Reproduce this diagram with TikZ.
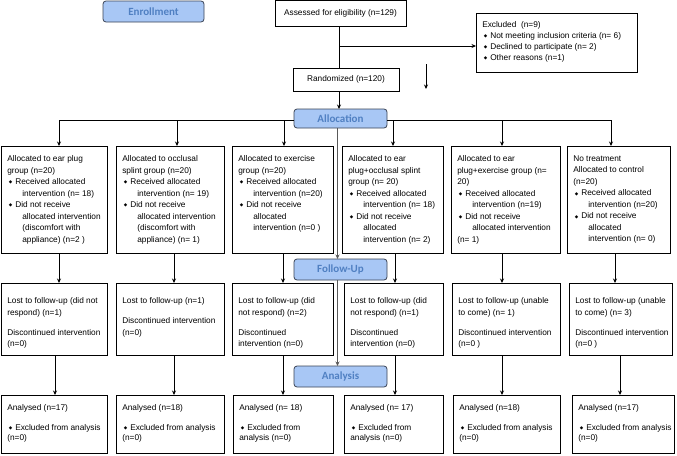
\documentclass[tikz,border=0pt]{standalone}
\usepackage{fontspec}
\setmainfont{Liberation Sans}
\newfontfamily\labfont{Carlito}
\newfontfamily\dejavu{DejaVu Sans}
\usetikzlibrary{arrows.meta}
\definecolor{labfill}{HTML}{A8C7F5}
\definecolor{labtext}{HTML}{5080C2}
\definecolor{labdraw}{HTML}{3A4355}
\newcommand{\bul}{\raisebox{0.6pt}{\dejavu\fontsize{4.5}{4.5}\selectfont ◆}}
\newcommand{\bi}[1]{\hspace*{1.5pt}\bul\hspace{3pt}#1}
\newcommand{\ci}[1]{\hspace*{15pt}#1}
\newcommand{\tbox}[7]{\node[tbox] (#1) at (#2,#3) {\parbox[t][#5pt][t]{#4pt}{\fontsize{8.3}{11.5}\selectfont\raggedright\leftskip=6.3pt\vspace*{#6pt}#7}};}
\tikzset{
  tbox/.style={draw=black, line width=0.8pt, anchor=north west, inner sep=0pt, outer sep=0pt},
  plain/.style={draw=black, line width=0.8pt, inner sep=0pt, outer sep=0pt, font=\fontsize{8.3}{10}\selectfont},
  lab/.style={draw=labdraw, fill=labfill, line width=0.8pt, rounded corners=3pt, text=labtext, font=\labfont\bfseries\fontsize{11}{12}\selectfont, inner sep=0pt, outer sep=0pt},
  arr/.style={draw=black, line width=0.8pt, -{Stealth[length=4.5pt,width=4pt]}},
  ln/.style={draw=black, line width=0.8pt},
  mid/.style={draw=black!65, line width=1.2pt, -{Stealth[length=4.5pt,width=4pt]}}
}
\begin{document}
\begin{tikzpicture}[x=1pt,y=-1pt]
\useasboundingbox (0,0) rectangle (677,455);
% enrollment
\node[lab, minimum width=101pt, minimum height=21pt] (enr) at (153.5,11.5) {Enrollment};
\node[plain, minimum width=131pt, minimum height=25.5pt, anchor=north west] (ass) at (275,0.5) {Assessed for eligibility (n=129)};
\node[plain, minimum width=106pt, minimum height=23pt, anchor=north west] (rand) at (293,68) {Randomized (n=120)};
\tbox{excl}{476}{13}{161}{59}{8}{\fontsize{8.3}{11}\selectfont Excluded\ \ (n=9)\\
\bi{Not meeting inclusion criteria (n= 6)}\\
\bi{Declined to participate (n= 2)}\\
\bi{Other reasons (n=1)}}
\coordinate (cx) at (339,0);
\coordinate (j1) at (339,46);
\draw[ln] (ass.south -| cx) -- (rand.north -| cx);
\draw[arr] (j1) -- (excl.west |- j1);
\coordinate (s1) at (426,64);
\coordinate (s2) at (426,89);
\draw[arr] (s1) -- (s2);
% allocation
\node[lab, minimum width=93pt, minimum height=19pt] (alloc) at (340.5,118.5) {Allocation};
\draw[arr] (rand.south -| cx) -- (alloc.north -| cx);
% group boxes
\tbox{B1}{1}{146}{106}{107}{9.5}{Allocated to ear plug\\ group (n=20)\\
\bi{Received allocated}\\ \ci{intervention (n= 18)}\\
\bi{Did not receive}\\ \ci{allocated intervention}\\ \ci{(discomfort with}\\ \ci{appliance) (n=2 )}}
\tbox{B2}{116}{146}{108}{107}{9.5}{Allocated to occlusal\\ splint group (n=20)\\
\bi{Received allocated}\\ \ci{intervention (n= 19)}\\
\bi{Did not receive}\\ \ci{allocated intervention}\\ \ci{(discomfort with}\\ \ci{appliance) (n= 1)}}
\tbox{B3}{232}{146}{101}{107}{9.5}{Allocated to exercise\\ group (n=20)\\
\bi{Received allocated}\\ \ci{intervention (n=20)}\\
\bi{Did not receive}\\ \ci{allocated}\\ \ci{intervention (n=0 )}}
\tbox{B4}{342}{146}{101}{107}{9.5}{Allocated to ear\\ plug+occlusal splint\\ group (n= 20)\\
\bi{Received allocated}\\ \ci{intervention (n= 18)}\\
\bi{Did not receive}\\ \ci{allocated}\\ \ci{intervention (n= 2)}}
\tbox{B5}{451}{146}{109}{107}{9.5}{Allocated to ear\\ plug+exercise group (n=\\ 20)\\
\bi{Received allocated}\\ \ci{intervention (n=19)}\\
\bi{Did not receive}\\ \ci{allocated intervention}\\ (n= 1)}
\tbox{B6}{567}{146}{103}{107}{9.5}{No treatment\\ Allocated to control\\ (n=20)\\
\bi{Received allocated}\\ \ci{intervention (n=20)}\\
\bi{Did not receive}\\ \ci{allocated}\\ \ci{intervention (n= 0)}}
\coordinate (hy) at (0,120);
\coordinate (a1) at (59,0);
\coordinate (a2) at (177,0);
\coordinate (a3) at (284,0);
\coordinate (a4) at (393,0);
\coordinate (a5) at (502,0);
\coordinate (a6) at (611,0);
\draw[arr] (alloc.west |- hy) -| (B1.north -| a1);
\draw[arr] (a2 |- hy) -- (B2.north -| a2);
\draw[arr] (a3 |- hy) -- (B3.north -| a3);
\draw[arr] (alloc.east |- hy) -| (B6.north -| a6);
\draw[arr] (a4 |- hy) -- (B4.north -| a4);
\draw[arr] (a5 |- hy) -- (B5.north -| a5);
% follow-up
\node[lab, minimum width=93pt, minimum height=21pt] (fu) at (340.5,269.5) {Follow-Up};
\tbox{F1}{1}{283}{106}{72}{14.5}{Lost to follow-up (did not\\ respond) (n=1)\\[8.5pt] Discontinued intervention\\ (n=0)}
\tbox{F2}{116}{283}{108}{72}{14.5}{Lost to follow-up (n=1)\\[8.5pt] Discontinued intervention\\ (n=0)}
\tbox{F3}{232}{283}{101}{72}{14.5}{Lost to follow-up (did\\ not respond) (n=2)\\[8.5pt] Discontinued\\ intervention (n=0)}
\tbox{F4}{344}{283}{99}{72}{14.5}{Lost to follow-up (did\\ not respond) (n=1)\\[8.5pt] Discontinued\\ intervention (n=0)}
\tbox{F5}{452}{283}{108}{72}{14.5}{Lost to follow-up (unable\\ to come) (n= 1)\\[8.5pt] Discontinued intervention\\ (n=0 )}
\tbox{F6}{569}{283}{103}{72}{14.5}{Lost to follow-up (unable\\ to come) (n= 3)\\[8.5pt] Discontinued intervention\\ (n=0 )}
\coordinate (b1) at (59,0);
\coordinate (b2) at (174,0);
\coordinate (b3) at (283,0);
\coordinate (b4) at (395,0);
\coordinate (b5) at (502,0);
\coordinate (b6) at (615,0);
\draw[arr] (B1.south -| b1) -- (F1.north -| b1);
\draw[arr] (B2.south -| b2) -- (F2.north -| b2);
\draw[arr] (B3.south -| b3) -- (F3.north -| b3);
\draw[arr] (B4.south -| b4) -- (F4.north -| b4);
\draw[arr] (B5.south -| b5) -- (F5.north -| b5);
\draw[arr] (B6.south -| b6) -- (F6.north -| b6);
% analysis
\node[lab, minimum width=93pt, minimum height=21pt] (an) at (340.5,376.5) {Analysis};
\tbox{A1}{1}{395}{106}{58.5}{9}{Analysed (n=17)\\[8.5pt] \bi{Excluded from analysis}\\[-1.5pt] (n=0)}
\tbox{A2}{116}{395}{108}{58.5}{9}{Analysed (n=18)\\[8.5pt] \bi{Excluded from analysis}\\[-1.5pt] (n=0)}
\tbox{A3}{233}{395}{100}{58.5}{9}{Analysed (n= 18)\\[8.5pt] \bi{Excluded from}\\[-1.5pt] analysis (n=0)}
\tbox{A4}{344}{395}{99}{58.5}{9}{Analysed (n= 17)\\[8.5pt] \bi{Excluded from}\\[-1.5pt] analysis (n=0)}
\tbox{A5}{453}{395}{107}{58.5}{9}{Analysed (n=18)\\[8.5pt] \bi{Excluded from analysis}\\[-1.5pt] (n=0)}
\tbox{A6}{572}{395}{102}{58.5}{9}{Analysed (n=17)\\[8.5pt] \bi{Excluded from analysis}\\[-1.5pt] (n=0)}
\coordinate (c1) at (55,0);
\coordinate (c2) at (174,0);
\coordinate (c3) at (283,0);
\coordinate (c4) at (395,0);
\coordinate (c5) at (502,0);
\coordinate (c6) at (620,0);
\draw[arr] (F1.south -| c1) -- (A1.north -| c1);
\draw[arr] (F2.south -| c2) -- (A2.north -| c2);
\draw[arr] (F3.south -| c3) -- (A3.north -| c3);
\draw[arr] (F4.south -| c4) -- (A4.north -| c4);
\draw[arr] (F5.south -| c5) -- (A5.north -| c5);
\draw[arr] (F6.south -| c6) -- (A6.north -| c6);
% middle line
\coordinate (mx) at (337.5,0);
\draw[mid] (alloc.south -| mx) -- (fu.north -| mx);
\draw[mid] (fu.south -| mx) -- (an.north -| mx);
\end{tikzpicture}
\end{document}
